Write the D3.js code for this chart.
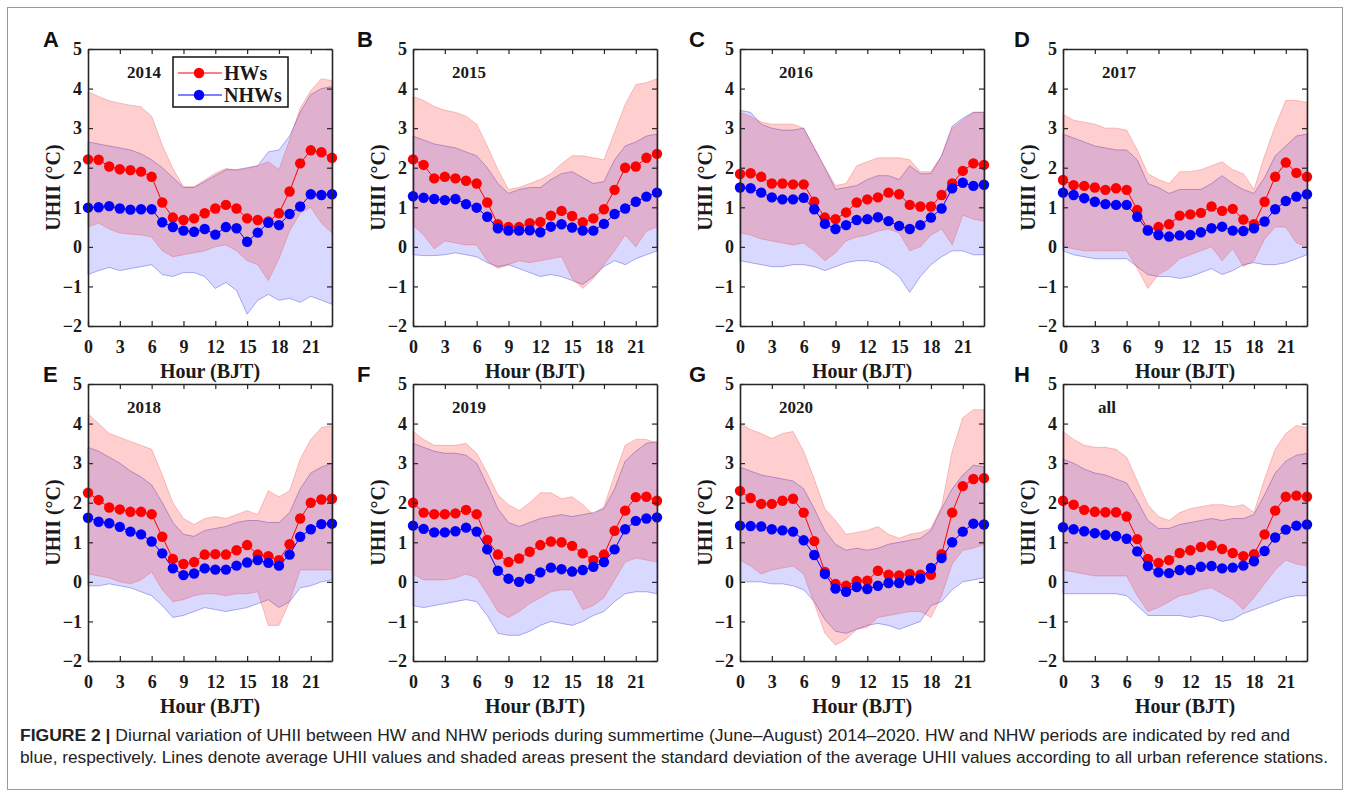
<!DOCTYPE html>
<html><head><meta charset="utf-8">
<script src="https://cdn.jsdelivr.net/npm/d3@7"></script>
<style>body{margin:0;background:#fff}</style>
</head><body><svg id="c" width="1350" height="806"></svg>
<script>
const hours = d3.range(0,24);
const yTicks = [-2,-1,0,1,2,3,4,5];
const xTicks = [0,3,6,9,12,15,18,21];
const panelLetters = ["A","B","C","D","E","F","G","H"];
const panelYears = ["2014","2015","2016","2017","2018","2019","2020","all"];
const seriesNames = ["HWs","NHWs"];

// 2014
const hw2014 = [2.21,2.2,2.03,1.96,1.94,1.9,1.77,1.12,0.74,0.68,0.72,0.85,0.97,1.06,0.97,0.72,0.68,0.64,0.85,1.4,2.11,2.44,2.39,2.25];
const nhw2014 = [0.99,1.0,1.03,0.97,0.94,0.95,0.95,0.62,0.5,0.41,0.38,0.45,0.31,0.5,0.47,0.13,0.36,0.61,0.55,0.83,1.02,1.33,1.31,1.33];
const hwHi2014 = [3.92,3.8,3.69,3.63,3.58,3.54,3.3,2.57,1.98,1.52,1.52,1.69,1.86,1.98,1.94,1.98,2.05,2.15,1.95,2.7,3.5,3.95,4.25,4.2];
const hwLo2014 = [0.5,0.6,0.45,0.35,0.32,0.3,0.25,-0.1,-0.25,-0.2,-0.15,-0.1,0.0,0.05,-0.1,-0.35,-0.45,-0.85,-0.3,0.4,0.85,1.0,0.6,0.35];
const nhwHi2014 = [2.65,2.6,2.55,2.5,2.45,2.35,2.2,2.0,1.75,1.5,1.5,1.65,1.8,1.95,1.95,2.0,2.05,2.4,2.45,2.8,3.4,3.85,4.0,4.05];
const nhwLo2014 = [-0.7,-0.6,-0.52,-0.6,-0.55,-0.5,-0.45,-0.7,-0.75,-0.65,-0.65,-0.75,-1.05,-0.9,-1.1,-1.7,-1.35,-1.2,-1.35,-1.3,-1.4,-1.25,-1.35,-1.45];
// 2015
const hw2015 = [2.21,2.07,1.73,1.77,1.73,1.67,1.6,1.12,0.57,0.5,0.5,0.6,0.63,0.79,0.91,0.78,0.62,0.72,0.95,1.44,2.0,2.03,2.25,2.35];
const nhw2015 = [1.28,1.24,1.21,1.18,1.21,1.08,0.99,0.76,0.47,0.41,0.41,0.42,0.37,0.51,0.57,0.49,0.41,0.41,0.58,0.83,0.97,1.14,1.27,1.37];
const hwHi2015 = [3.8,3.7,3.55,3.45,3.4,3.3,3.1,2.55,1.95,1.45,1.5,1.6,1.7,1.85,2.1,2.3,2.3,2.25,2.2,2.9,3.6,4.1,4.15,4.25];
const hwLo2015 = [0.55,0.3,-0.05,0.15,0.1,0.05,0.05,-0.35,-0.55,-0.45,-0.35,-0.4,-0.35,-0.3,-0.25,-0.8,-1.05,-0.8,-0.45,-0.1,0.3,0.0,0.4,0.5];
const nhwHi2015 = [2.8,2.7,2.6,2.55,2.5,2.4,2.3,2.0,1.6,1.35,1.45,1.5,1.5,1.7,1.85,1.9,1.75,1.6,1.65,2.2,2.55,2.65,2.8,2.85];
const nhwLo2015 = [-0.2,-0.22,-0.22,-0.2,-0.15,-0.2,-0.25,-0.4,-0.5,-0.45,-0.55,-0.65,-0.75,-0.7,-0.75,-0.85,-0.95,-0.75,-0.5,-0.35,-0.45,-0.3,-0.2,-0.1];
// 2016
const hw2016 = [1.84,1.86,1.77,1.6,1.6,1.58,1.58,1.14,0.74,0.7,0.87,1.12,1.2,1.25,1.37,1.33,1.06,1.02,1.02,1.31,1.6,1.92,2.11,2.07];
const nhw2016 = [1.5,1.48,1.37,1.25,1.2,1.2,1.24,0.95,0.58,0.45,0.55,0.68,0.7,0.75,0.65,0.53,0.45,0.55,0.74,0.97,1.48,1.62,1.54,1.57];
const hwHi2016 = [3.4,3.3,3.15,3.1,3.1,3.1,3.0,2.5,2.0,1.55,1.6,2.05,2.15,2.25,2.25,2.25,2.2,1.9,1.9,2.3,3.0,3.2,3.4,3.4];
const hwLo2016 = [0.35,0.3,0.2,0.15,0.1,0.05,0.1,-0.1,-0.35,-0.15,0.15,0.25,0.3,0.4,0.45,0.35,-0.1,0.0,0.3,0.45,0.05,0.8,0.7,0.65];
const nhwHi2016 = [3.45,3.4,3.1,3.0,2.95,2.95,3.0,2.5,2.0,1.45,1.5,1.55,1.7,1.8,1.8,1.7,2.05,1.85,1.85,2.3,3.05,3.25,3.4,3.4];
const nhwLo2016 = [-0.35,-0.4,-0.45,-0.5,-0.5,-0.45,-0.45,-0.5,-0.6,-0.5,-0.4,-0.35,-0.35,-0.4,-0.55,-0.75,-1.15,-0.75,-0.45,-0.25,-0.1,-0.1,-0.2,-0.2];
// 2017
const hw2017 = [1.69,1.56,1.54,1.5,1.44,1.48,1.44,0.93,0.43,0.5,0.57,0.79,0.82,0.86,1.02,0.91,0.96,0.69,0.57,1.14,1.77,2.13,1.87,1.77];
const nhw2017 = [1.37,1.31,1.23,1.14,1.08,1.06,1.06,0.76,0.41,0.3,0.26,0.29,0.3,0.37,0.47,0.51,0.41,0.4,0.47,0.64,0.95,1.16,1.27,1.33];
const hwHi2017 = [3.35,3.2,3.15,3.1,3.0,3.0,2.95,2.45,1.85,1.7,1.6,1.9,1.9,1.95,2.05,2.15,1.95,1.85,1.45,2.3,3.05,3.7,3.7,3.65];
const hwLo2017 = [0.0,-0.05,-0.1,-0.1,-0.1,-0.1,-0.1,-0.55,-1.05,-0.7,-0.55,-0.3,-0.2,-0.1,0.0,-0.35,-0.05,-0.5,-0.35,0.2,0.5,0.5,0.1,0.0];
const nhwHi2017 = [2.85,2.75,2.65,2.55,2.5,2.45,2.45,2.2,1.6,1.5,1.35,1.45,1.45,1.45,1.6,1.8,1.6,1.45,1.35,1.75,2.3,2.55,2.8,2.85];
const nhwLo2017 = [-0.1,-0.2,-0.25,-0.3,-0.3,-0.3,-0.3,-0.5,-0.7,-0.75,-0.75,-0.8,-0.75,-0.65,-0.55,-0.7,-0.6,-0.45,-0.4,-0.45,-0.45,-0.4,-0.3,-0.2];
// 2018
const hw2018 = [2.25,2.07,1.88,1.83,1.77,1.77,1.71,1.14,0.58,0.45,0.5,0.69,0.7,0.69,0.8,0.93,0.69,0.65,0.55,0.95,1.6,2.0,2.08,2.1];
const nhw2018 = [1.62,1.52,1.48,1.39,1.27,1.2,1.02,0.72,0.34,0.17,0.21,0.34,0.31,0.31,0.41,0.49,0.55,0.48,0.41,0.69,1.14,1.33,1.46,1.47];
const hwHi2018 = [4.25,4.0,3.75,3.65,3.55,3.45,3.35,2.7,2.0,1.6,1.45,1.6,1.65,1.6,1.7,1.8,1.7,2.3,2.15,2.3,3.1,3.6,3.9,3.95];
const hwLo2018 = [0.2,0.15,0.1,0.0,-0.05,0.05,0.25,-0.2,-0.5,-0.45,-0.35,-0.3,-0.3,-0.35,-0.3,-0.3,-0.25,-1.1,-1.1,-0.5,0.3,0.3,0.3,0.3];
const nhwHi2018 = [3.4,3.3,3.15,3.0,2.8,2.65,2.45,2.0,1.5,1.2,1.15,1.3,1.35,1.4,1.5,1.55,1.55,1.5,1.5,1.75,2.35,2.75,2.9,3.0];
const nhwLo2018 = [-0.1,-0.1,-0.05,-0.1,-0.15,-0.25,-0.35,-0.6,-0.9,-0.85,-0.75,-0.65,-0.7,-0.75,-0.7,-0.65,-0.55,-0.45,-0.65,-0.5,-0.15,-0.1,0.0,0.05];
// 2019
const hw2019 = [2.0,1.75,1.71,1.71,1.73,1.82,1.71,1.06,0.69,0.5,0.59,0.76,0.93,1.02,1.0,0.91,0.72,0.55,0.69,1.29,1.8,2.14,2.15,2.05];
const nhw2019 = [1.42,1.34,1.25,1.25,1.28,1.37,1.27,0.82,0.28,0.08,0.0,0.08,0.24,0.36,0.32,0.26,0.3,0.38,0.5,0.82,1.33,1.54,1.6,1.63];
const hwHi2019 = [3.8,3.6,3.45,3.45,3.45,3.5,3.25,2.75,2.2,1.95,1.8,2.0,2.25,2.25,2.1,2.15,1.95,1.7,1.9,2.7,3.45,3.6,3.6,3.5];
const hwLo2019 = [0.2,0.05,0.05,0.05,0.1,0.2,0.1,-0.3,-0.75,-0.9,-0.75,-0.55,-0.4,-0.25,-0.2,-0.2,-0.7,-0.6,-0.4,0.05,0.5,0.6,0.55,0.5];
const nhwHi2019 = [3.5,3.4,3.3,3.25,3.25,3.2,3.0,2.45,1.85,1.5,1.4,1.5,1.6,1.65,1.7,1.65,1.7,1.75,1.85,2.35,3.05,3.3,3.5,3.55];
const nhwLo2019 = [-0.6,-0.65,-0.6,-0.55,-0.5,-0.45,-0.5,-0.85,-1.3,-1.35,-1.35,-1.25,-1.1,-1.0,-1.05,-1.1,-1.0,-0.85,-0.75,-0.5,-0.3,-0.25,-0.25,-0.3];
// 2020
const hw2020 = [2.3,2.12,1.97,1.97,2.05,2.1,1.75,1.03,0.25,-0.05,-0.1,0.02,0.03,0.28,0.18,0.16,0.2,0.18,0.18,0.7,1.75,2.42,2.6,2.62];
const nhw2020 = [1.42,1.41,1.4,1.33,1.3,1.27,1.05,0.68,0.2,-0.17,-0.25,-0.13,-0.18,-0.1,-0.03,-0.03,0.04,0.08,0.35,0.6,1.0,1.27,1.47,1.45];
const hwHi2020 = [4.0,3.85,3.75,3.62,3.75,3.8,3.3,2.6,1.85,1.55,1.2,1.25,1.3,1.4,1.2,1.1,1.2,1.25,1.35,1.9,3.3,4.15,4.35,4.35];
const hwLo2020 = [0.55,0.4,0.2,0.3,0.35,0.4,0.2,-0.55,-1.3,-1.6,-1.45,-1.2,-1.15,-0.9,-0.85,-0.8,-0.75,-0.75,-0.9,-0.35,0.45,0.8,0.85,0.95];
const nhwHi2020 = [2.9,2.8,2.7,2.65,2.6,2.55,2.35,1.85,1.3,0.95,0.8,0.85,0.8,0.85,0.95,1.0,1.05,1.1,1.3,1.85,2.35,2.7,2.95,2.9];
const nhwLo2020 = [0.0,0.0,0.0,-0.05,-0.05,-0.1,-0.2,-0.5,-0.95,-1.25,-1.3,-1.2,-1.1,-1.05,-1.1,-1.2,-1.1,-1.0,-0.6,-0.5,-0.2,0.0,0.05,0.1];
// all
const hwAll = [2.05,1.95,1.82,1.77,1.76,1.76,1.65,1.08,0.58,0.48,0.55,0.73,0.8,0.88,0.92,0.83,0.73,0.65,0.7,1.2,1.8,2.15,2.18,2.15];
const nhwAll = [1.38,1.33,1.28,1.23,1.19,1.16,1.09,0.77,0.4,0.24,0.22,0.3,0.3,0.38,0.4,0.34,0.36,0.41,0.52,0.78,1.12,1.32,1.42,1.45];
const hwHiAll = [3.8,3.6,3.45,3.4,3.4,3.35,3.15,2.55,1.95,1.65,1.55,1.75,1.85,1.9,1.95,1.95,1.9,1.95,1.75,2.6,3.35,3.75,3.95,3.9];
const hwLoAll = [0.3,0.25,0.2,0.15,0.15,0.15,0.15,-0.35,-0.75,-0.65,-0.5,-0.35,-0.3,-0.2,-0.15,-0.3,-0.45,-0.7,-0.4,-0.05,0.3,0.55,0.45,0.4];
const nhwHiAll = [3.1,3.0,2.85,2.75,2.7,2.6,2.5,2.05,1.55,1.35,1.35,1.45,1.5,1.55,1.6,1.55,1.6,1.6,1.7,2.2,2.75,3.05,3.2,3.25];
const nhwLoAll = [-0.3,-0.3,-0.3,-0.3,-0.3,-0.3,-0.35,-0.6,-0.85,-0.85,-0.85,-0.85,-0.9,-0.85,-0.9,-1.0,-0.95,-0.8,-0.7,-0.6,-0.5,-0.4,-0.35,-0.35];

const panels = [
  [hw2014,nhw2014,hwHi2014,hwLo2014,nhwHi2014,nhwLo2014],
  [hw2015,nhw2015,hwHi2015,hwLo2015,nhwHi2015,nhwLo2015],
  [hw2016,nhw2016,hwHi2016,hwLo2016,nhwHi2016,nhwLo2016],
  [hw2017,nhw2017,hwHi2017,hwLo2017,nhwHi2017,nhwLo2017],
  [hw2018,nhw2018,hwHi2018,hwLo2018,nhwHi2018,nhwLo2018],
  [hw2019,nhw2019,hwHi2019,hwLo2019,nhwHi2019,nhwLo2019],
  [hw2020,nhw2020,hwHi2020,hwLo2020,nhwHi2020,nhwLo2020],
  [hwAll,nhwAll,hwHiAll,hwLoAll,nhwHiAll,nhwLoAll]
];

const svg = d3.select("#c");
svg.append("rect").attr("width",1350).attr("height",806).attr("fill","#fff");
svg.append("rect").attr("x",7.5).attr("y",7.5).attr("width",1335).attr("height",782)
  .attr("fill","none").attr("stroke","#9a9a9a").attr("stroke-width",1);

const lefts = [88,413,740,1063];
const tops = [49,384];
const letterX = [43,357,689,1014];
const PW = 244, PH = 277;
const serif = "'Liberation Serif','Times New Roman',serif";
const axisCol = "#262626";
const RED = "#ff0000", BLUE = "#0000ff";

panels.forEach((p,i)=>{
  const col = i%4, row = Math.floor(i/4);
  const L = lefts[col], T = tops[row];
  const x = d3.scaleLinear().domain([0,23]).range([L,L+PW]);
  const y = d3.scaleLinear().domain([-2,5]).range([T+PH,T]);
  const g = svg.append("g");
  const [hw,nhw,hwHi,hwLo,nhwHi,nhwLo] = p;

  const area = (hi,lo)=>d3.area().x((d,k)=>x(hours[k])).y0((d,k)=>y(lo[k])).y1((d,k)=>y(hi[k]))(hours);
  // NHW band first, HW band on top
  g.append("path").attr("d",area(nhwHi,nhwLo)).attr("fill","rgba(0,0,255,0.15)")
    .attr("stroke","rgba(40,40,200,0.45)").attr("stroke-width",0.8);
  g.append("path").attr("d",area(hwHi,hwLo)).attr("fill","rgba(255,0,0,0.19)")
    .attr("stroke","rgba(230,80,80,0.4)").attr("stroke-width",0.8);

  const line = d3.line().x((d,k)=>x(hours[k])).y(d=>y(d));
  [[hw,RED],[nhw,BLUE]].forEach(([vals,c])=>{
    g.append("path").attr("d",line(vals)).attr("fill","none").attr("stroke",c).attr("stroke-width",1);
    g.selectAll(null).data(vals).enter().append("circle")
      .attr("cx",(d,k)=>x(hours[k])).attr("cy",d=>y(d)).attr("r",5.2).attr("fill",c);
  });

  // axes
  const styleAxis = sel=>{
    sel.selectAll("path.domain").attr("stroke",axisCol).attr("stroke-width",1.6);
    sel.selectAll(".tick line").attr("stroke",axisCol).attr("stroke-width",1.2);
    sel.selectAll("text").attr("font-family",serif).attr("font-weight","bold").attr("font-size",18).attr("fill","#1a1a1a");
  };
  g.append("g").attr("transform",`translate(${L},0)`)
    .call(d3.axisLeft(y).tickValues(yTicks).tickSize(-5).tickSizeOuter(0).tickPadding(6).tickFormat(d3.format("d"))).call(styleAxis);
  g.append("g").attr("transform",`translate(${L+PW},0)`)
    .call(d3.axisRight(y).tickValues(yTicks).tickSize(-5).tickSizeOuter(0).tickFormat("")).call(styleAxis);
  g.append("g").attr("transform",`translate(0,${T+PH})`)
    .call(d3.axisBottom(x).tickValues(xTicks).tickSize(-5).tickSizeOuter(0).tickPadding(14).tickFormat(d3.format("d"))).call(styleAxis);
  g.append("g").attr("transform",`translate(0,${T})`)
    .call(d3.axisTop(x).tickValues(xTicks).tickSize(-5).tickSizeOuter(0).tickFormat("")).call(styleAxis);

  // titles
  g.append("text").attr("transform",`translate(${L-35},${T+PH/2}) rotate(-90)`)
    .attr("text-anchor","middle").attr("dy","0.35em")
    .attr("font-family",serif).attr("font-weight","bold").attr("font-size",20).attr("fill","#1a1a1a")
    .text("UHII (°C)");
  g.append("text").attr("x",L+PW/2).attr("y",T+PH+52).attr("text-anchor","middle")
    .attr("font-family",serif).attr("font-weight","bold").attr("font-size",20).attr("fill","#1a1a1a")
    .text("Hour (BJT)");
  g.append("text").attr("x",L+(i===7?35:39)).attr("y",T+29)
    .attr("font-family",serif).attr("font-weight","bold").attr("font-size",17).attr("fill","#1a1a1a")
    .text(panelYears[i]);
  g.append("text").attr("x",letterX[col]).attr("y",T-2)
    .attr("font-family","'Liberation Sans',Arial,sans-serif").attr("font-weight","bold").attr("font-size",22).attr("fill","#111")
    .text(panelLetters[i]);

  if(i===0){
    const lg = g.append("g");
    lg.append("rect").attr("x",L+85).attr("y",T+8).attr("width",115).attr("height",50)
      .attr("fill","#fff").attr("stroke","#111").attr("stroke-width",1.5);
    [[RED,seriesNames[0],T+24],[BLUE,seriesNames[1],T+46]].forEach(([c,name,yy])=>{
      lg.append("line").attr("x1",L+90).attr("x2",L+134).attr("y1",yy).attr("y2",yy).attr("stroke",c).attr("stroke-width",1);
      lg.append("circle").attr("cx",L+111).attr("cy",yy).attr("r",5.2).attr("fill",c);
      lg.append("text").attr("x",L+136).attr("y",yy+7).attr("font-family",serif).attr("font-weight","bold")
        .attr("font-size",20).attr("fill","#1a1a1a").text(name);
    });
  }
});

// caption
const capFont = "'Liberation Sans Narrow','Liberation Sans',Arial,sans-serif";
const c1 = svg.append("text").attr("x",20).attr("y",741).attr("font-family",capFont).attr("font-size",16).attr("fill","#222")
  .attr("textLength",1270).attr("lengthAdjust","spacingAndGlyphs");
c1.append("tspan").attr("font-weight","bold").text("FIGURE 2 | ");
c1.append("tspan").text("Diurnal variation of UHII between HW and NHW periods during summertime (June–August) 2014–2020. HW and NHW periods are indicated by red and");
svg.append("text").attr("x",20).attr("y",763).attr("font-family",capFont).attr("font-size",16).attr("fill","#222")
  .attr("textLength",1308).attr("lengthAdjust","spacingAndGlyphs")
  .text("blue, respectively. Lines denote average UHII values and shaded areas present the standard deviation of the average UHII values according to all urban reference stations.");
</script>
</body></html>
